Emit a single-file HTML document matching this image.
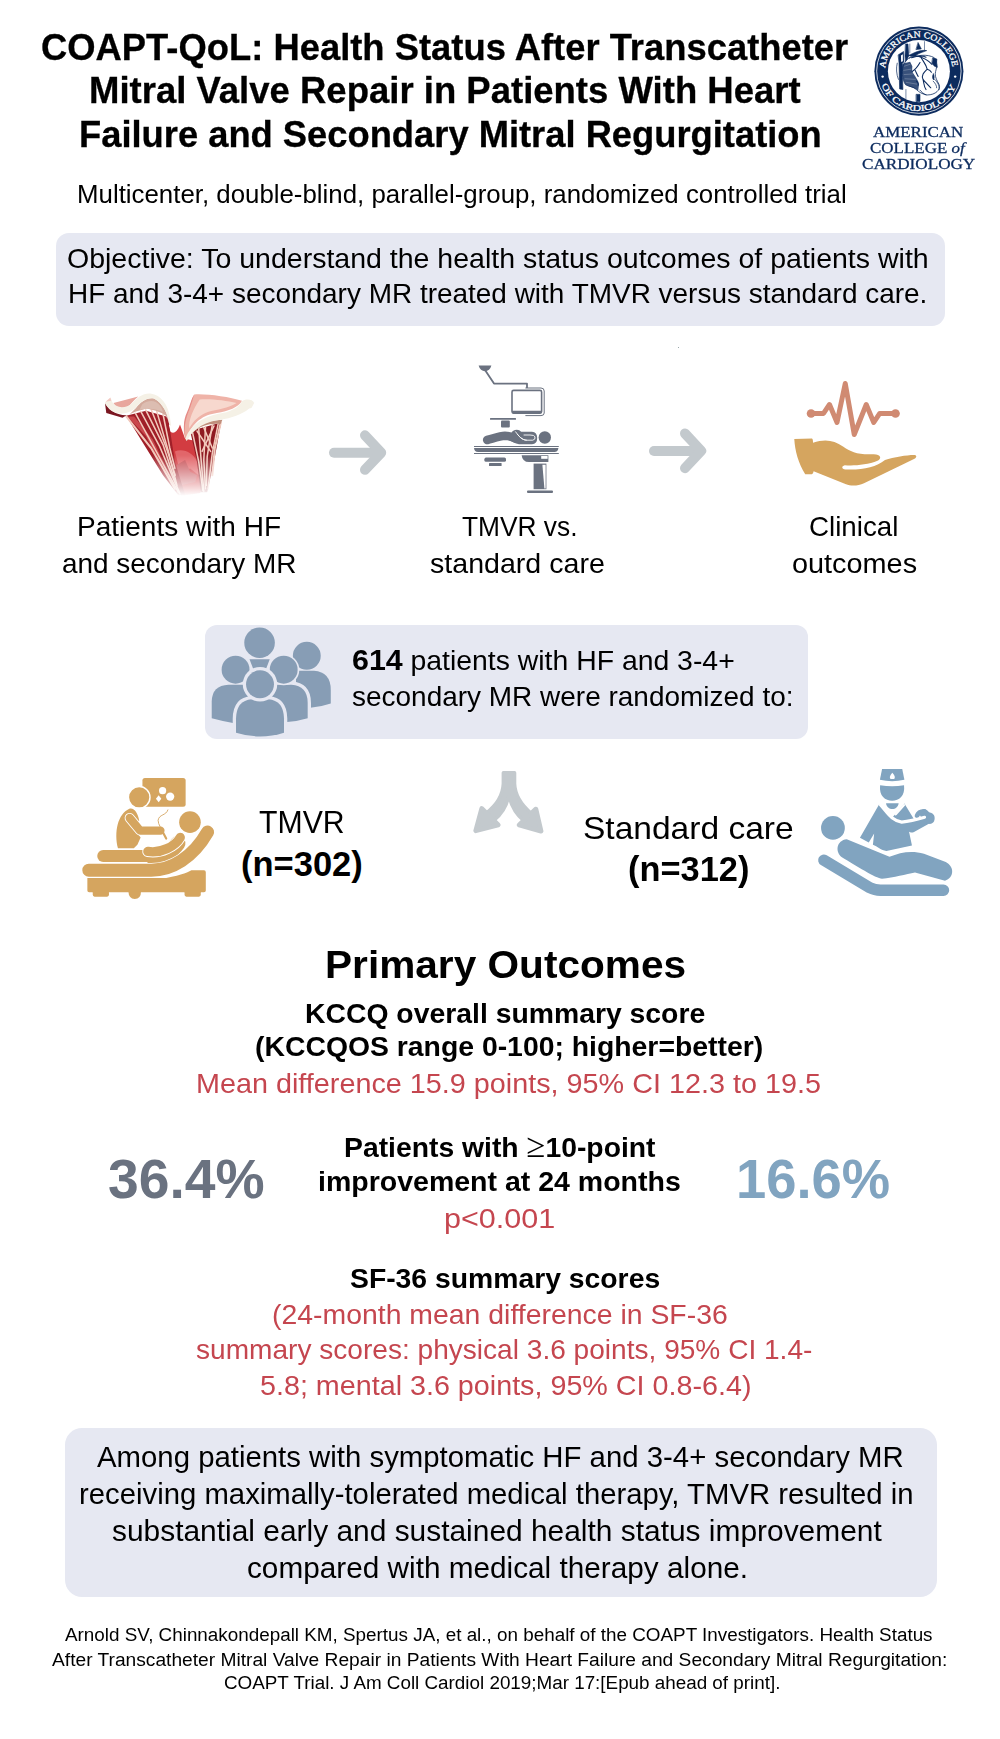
<!DOCTYPE html>
<html lang="en"><head><meta charset="utf-8"><title>COAPT-QoL: Health Status After Transcatheter Mitral Valve Repair</title>
<style>
html,body{margin:0;padding:0;background:#fff}
#page{position:relative;width:1000px;height:1739px;overflow:hidden;background:#fff;font-family:"Liberation Sans",sans-serif}
header,section,footer,h1,h2,h3,p{margin:0;padding:0;font-size:inherit;font-weight:inherit}
.abs{position:absolute;display:block}
.box{position:absolute;background:#e6e8f2}
.t{position:absolute;display:block;white-space:nowrap;line-height:1;transform-origin:0 0;margin:0}
.t b{font-weight:700;font-size:1.07em;line-height:0}
.ge{font-family:"Liberation Serif",serif;font-weight:400;font-size:1.22em;line-height:0}
.sf{font-family:"Liberation Serif",serif;-webkit-text-stroke:0.3px #0c2b5e}

</style></head><body>
<div id="page">
<header>
<h1>
<span class="t" style="-webkit-text-stroke:0.3px #000;left:40.81px;top:30.22px;font-size:36.6px;font-weight:700;color:#000;transform:scaleX(0.9946)">COAPT-QoL: Health Status After Transcatheter</span>
<span class="t" style="-webkit-text-stroke:0.3px #000;left:88.90px;top:73.32px;font-size:36.6px;font-weight:700;color:#000;transform:scaleX(0.9979)">Mitral Valve Repair in Patients With Heart</span>
<span class="t" style="-webkit-text-stroke:0.3px #000;left:79.21px;top:116.52px;font-size:36.6px;font-weight:700;color:#000;transform:scaleX(0.9930)">Failure and Secondary Mitral Regurgitation</span>
</h1>
<p>
<span class="t" style="left:76.55px;top:181.67px;font-size:25.2px;font-weight:400;color:#000;transform:scaleX(1.0257)">Multicenter, double-blind, parallel-group, randomized controlled trial</span>
</p>
<div class="logo">
<svg class="abs" style="left:865px;top:20px" width="110" height="105" viewBox="0 0 1000 955">
<defs>
<path id="arcTop" d="M183.2 438.2A308 308 0 0 1 796.8 438.2"/>
<path id="arcBot" d="M150.7 591.2A362 362 0 0 0 829.3 591.2"/>
</defs>
<circle cx="490" cy="465" r="405" fill="#0c2b5e"/>
<circle cx="490" cy="465" r="384" fill="none" stroke="#fff" stroke-width="7"/>
<circle cx="490" cy="465" r="282" fill="#fff"/>
<g fill="#fff" font-family="'Liberation Serif',serif" font-size="80" font-weight="400" stroke="#fff" stroke-width="2.5">
<text textLength="900" lengthAdjust="spacingAndGlyphs"><textPath href="#arcTop" startOffset="0">AMERICAN COLLEGE</textPath></text>
<text textLength="868" lengthAdjust="spacingAndGlyphs"><textPath href="#arcBot" startOffset="0">OF CARDIOLOGY</textPath></text>
</g>
<circle cx="160" cy="515" r="11" fill="#fff"/><circle cx="820" cy="515" r="11" fill="#fff"/>
<g transform="translate(227.3,163.6) scale(0.5454)" fill="#0c2b5e" stroke="#0c2b5e" stroke-width="10" stroke-linejoin="round" stroke-linecap="round">
<path d="M265 860V1010M575 60V200M330 100V250" fill="none" stroke-width="9"/>
<path d="M440 940H500V1060H440Z"/>
<path d="M140 280L225 225L232 400L202 425L215 860L160 850L150 420Z"/>
<path d="M182 292L214 272L214 388L186 402Z" fill="#fff" stroke="none"/>
<path d="M262 100L300 100L312 300L262 405L250 300Z"/>
<path d="M470 80L522 182L438 192Z"/>
<path d="M330 330C450 290 620 260 740 330C800 400 780 480 760 560C740 640 780 700 820 780C850 860 760 950 620 950C540 940 480 900 440 860C380 800 330 820 260 780C200 700 190 520 230 440C260 380 300 340 330 330Z" fill="#fff" stroke-width="13"/>
<path d="M310 290C400 250 500 190 612 210C560 235 470 250 430 300C400 310 350 315 310 290Z"/>
<path d="M360 330C440 300 540 290 600 320M480 310C560 330 640 380 700 440" fill="none" stroke-width="18"/>
<path d="M205 430L335 395L372 470L368 560L420 640L470 720L480 800L470 875C400 830 330 820 262 780C205 700 190 540 205 430Z" opacity="0.82" stroke="none"/>
<path d="M240 470L330 440M230 540L350 520M235 610L380 600M250 680L420 690M270 740L450 770" fill="none" stroke="#fff" stroke-width="7" opacity="0.55"/>
<path d="M520 330C560 400 600 440 620 520C560 580 520 620 550 690C590 740 640 790 680 830M620 520C660 530 680 550 690 570M500 410C460 480 420 530 370 560M420 540C440 580 450 610 470 640M550 690C570 760 560 800 600 860M440 720C470 740 480 760 470 790" fill="none" stroke-width="18"/>
<path d="M715 335L782 352L775 420L790 490L740 470L700 420Z"/>
<path d="M722 600C700 640 708 680 728 700C740 660 740 630 722 600Z"/>
<path d="M745 690C800 745 828 800 818 860M720 720C760 760 780 800 778 830" fill="none" stroke-width="12"/>
<path d="M120 420C100 500 105 600 140 690" fill="none" stroke-width="12"/>
<path d="M600 950C560 930 520 900 500 870" fill="none" stroke-width="14"/>
</g>
</svg>
<span class="t sf" style="left:873.40px;top:123.60px;font-size:15.4px;font-weight:400;color:#0c2b5e;transform:scaleX(1.1000)">AMERICAN</span>
<span class="t sf" style="left:869.80px;top:140.10px;font-size:15.4px;font-weight:400;color:#0c2b5e;transform:scaleX(1.1023)">COLLEGE <i>of</i></span>
<span class="t sf" style="left:861.89px;top:156.10px;font-size:15.4px;font-weight:400;color:#0c2b5e;transform:scaleX(1.1130)">CARDIOLOGY</span>
</div>
</header>
<section class="objective">
<div class="box" style="left:56px;top:232.5px;width:888.75px;height:93.0px;border-radius:13px"></div>
<p>
<span class="t" style="left:66.56px;top:245.39px;font-size:27.3px;font-weight:400;color:#000;transform:scaleX(1.0445)">Objective: To understand the health status outcomes of patients with</span>
<span class="t" style="left:67.55px;top:280.39px;font-size:27.3px;font-weight:400;color:#000;transform:scaleX(1.0240)">HF and 3-4+ secondary MR treated with TMVR versus standard care.</span>
</p>
</section>
<section class="flow">
<div class="abs" style="left:677.5px;top:346.5px;width:1.5px;height:1.5px;background:#9aa8ab"></div>
<svg class="abs" style="left:95px;top:380px" width="170" height="125" viewBox="0 0 1000 735">
<defs>
<linearGradient id="fade" x1="0" y1="0" x2="0" y2="1"><stop offset="0" stop-color="#fff"/><stop offset="0.60" stop-color="#fff"/><stop offset="0.93" stop-color="#000"/></linearGradient>
<mask id="fm"><rect x="0" y="0" width="1000" height="735" fill="url(#fade)"/></mask>
</defs>
<g mask="url(#fm)">
<path d="M432 290C450 320 480 320 500 262L530 345L600 360L640 560L620 665L510 680L430 560Z" fill="#d23c41"/>
<path d="M470 420C520 400 580 430 600 480L610 560L560 520L500 540Z" fill="#e2666a"/>
<path d="M480 500L530 470L560 540L600 560L590 600L500 620Z" fill="#c8545a"/>
<path d="M183 210L300 180L420 215L440 285L470 480L530 675L490 678L400 560Z" fill="#a01f28"/>
<path d="M190 215L300 330L420 560L500 676L450 580L340 350L230 215Z" fill="#c9474c"/>
<path d="M560 300L742 250L700 480L660 660L622 660L600 480Z" fill="#8f1a22"/>
<g fill="none" stroke="#f2c9bc" stroke-width="9" stroke-linecap="round">
<path d="M183 212L330 400L470 640" stroke-width="12"/><path d="M238 196L350 400L490 660"/><path d="M270 186L380 390L500 670"/><path d="M298 176L400 380L472 600"/><path d="M330 172L420 400L472 560"/><path d="M362 180L432 420L482 620"/><path d="M400 200L440 400L470 520"/>
<path d="M572 300L610 480L635 650"/><path d="M610 285L625 480L640 655"/><path d="M650 275L640 470L650 640"/><path d="M690 262L660 450L655 620"/><path d="M725 255L690 430L665 640"/><path d="M740 250L705 400L690 560" stroke-width="12"/><path d="M600 300L680 420"/><path d="M700 270L630 420"/><path d="M640 280L690 400"/>
</g>
</g>
<g transform="translate(29.4,29.4) scale(0.5294)">
<path d="M55 200L70 310L250 365L295 335C200 340 100 280 55 200Z" fill="#7a1620"/>
<path d="M150 200L425 128C380 160 350 210 300 250C250 285 185 270 150 200Z" fill="#e8a79d"/>
<path d="M400 255C450 190 520 135 600 150C700 200 760 330 772 445L745 350L690 315L620 285L520 262L400 295L330 325Z" fill="#d3aa9c"/>
<path d="M470 215C520 175 580 170 620 190C660 215 690 250 700 300C640 270 540 250 440 275Z" fill="#dcbdb1"/>
<path d="M740 345L772 440L745 490Z" fill="#a01f28"/>
<path d="M55 195L120 145L135 190C180 260 280 270 360 200C420 140 470 90 560 95C680 110 760 220 780 380L790 455L768 440C760 330 700 200 600 150C520 130 450 190 400 250C330 320 200 340 130 290C90 260 60 220 55 195Z" fill="#f5f1e6"/>
<path d="M62 185L115 140L125 175Z" fill="#f3c9c2"/>
</g>
<g transform="translate(441.2,29.4) scale(0.5294)">
<path d="M228 505C300 430 430 395 582 385L562 432C450 420 330 450 248 535Z" fill="#c08f7c"/>
<path d="M270 105C400 95 650 130 800 175C760 250 650 290 520 310C380 330 250 400 175 612C138 520 150 400 200 300C230 230 240 150 270 105Z" fill="#efb3a8"/>
<path d="M270 105C255 150 235 230 205 300C165 400 150 500 178 600C150 510 140 400 190 300C225 225 235 150 270 105Z" fill="#e58a86"/>
<path d="M330 160C450 150 620 170 740 200C650 260 520 270 420 300C330 330 260 400 215 480C200 400 260 260 330 160Z" fill="#f7d8ce"/>
<path d="M800 180C830 150 920 150 935 200L905 255L880 262C800 330 680 370 560 386C420 400 260 470 185 625L172 592C230 440 380 350 540 320C660 300 760 260 800 180Z" fill="#f5f1e6"/>
</g>
</svg>
<p>
<span class="t" style="left:76.95px;top:513.09px;font-size:27.3px;font-weight:400;color:#000;transform:scaleX(1.0265)">Patients with HF</span>
<span class="t" style="left:62.08px;top:549.59px;font-size:27.3px;font-weight:400;color:#000;transform:scaleX(1.0233)">and secondary MR</span>
</p>
<svg class="abs" style="left:310px;top:410px" width="100" height="80" viewBox="0 0 1000 800"><g fill="none" stroke="#c3c9cd" stroke-width="100" stroke-linecap="round" stroke-linejoin="round"><path d="M240 428H700"/><path d="M550 253L712 427L550 598"/></g></svg>
<svg class="abs" style="left:630px;top:410px" width="100" height="80" viewBox="0 0 1000 800"><g fill="none" stroke="#c3c9cd" stroke-width="100" stroke-linecap="round" stroke-linejoin="round"><path d="M240 410H700"/><path d="M550 235L712 409L550 582"/></g></svg>
<svg class="abs" style="left:420px;top:340px" width="200" height="170" viewBox="0 0 1000 850"><g fill="#6b7280">
<path d="M293 128H357C352 146 340 156 325 156C310 156 298 146 293 128Z"/>
<path d="M325 150L370 218H535V240" fill="none" stroke="#6b7280" stroke-width="9" stroke-linejoin="round"/>
<path d="M527 240H605Q621 240 621 255V365Q621 378 605 378H527" fill="none" stroke="#6b7280" stroke-width="5" stroke-linejoin="round"/>
<rect x="460" y="252" width="148" height="114" rx="8" fill="#fff" stroke="#6b7280" stroke-width="8"/>
<rect x="460" y="354" width="148" height="14" rx="5"/>
<rect x="350" y="390" width="130" height="9" rx="3"/>
<rect x="405" y="402" width="44" height="36" rx="5"/>
<g transform="translate(200,400) scale(0.5)">
<circle cx="848" cy="175" r="62"/>
<path d="M272 200C330 185 400 160 450 158C500 158 520 170 560 185" fill="none" stroke="#6b7280" stroke-width="86" stroke-linecap="round"/>
<path d="M520 118H720Q772 122 772 180Q772 238 720 242H590C550 238 520 215 490 200Z"/>
<path d="M556 118C590 165 620 200 665 202H728Q756 196 750 168Q744 150 700 150H640" fill="none" stroke="#fff" stroke-width="9" stroke-linecap="round" stroke-linejoin="round"/>
<path d="M540 128C565 112 580 112 600 135" fill="none" stroke="#6b7280" stroke-width="40" stroke-linecap="round"/>
<path d="M556 118C590 165 620 200 665 202" fill="none" stroke="#fff" stroke-width="9" stroke-linecap="round"/>
</g>
<rect x="270" y="530" width="424" height="5"/>
<path d="M270 540H692Q690 560 672 560H290Q272 560 270 540Z"/>
<rect x="270" y="565" width="424" height="5"/>
<rect x="322" y="588" width="108" height="21" rx="8"/>
<rect x="345" y="615" width="63" height="15" rx="3"/>
<path d="M508 576H642V610H545Q512 610 508 576Z"/>
<rect x="606" y="580" width="32" height="14" fill="#fff"/>
<rect x="568" y="618" width="64" height="128"/>
<path d="M612 624H628V742H622Z" fill="#fff"/>
<rect x="535" y="752" width="130" height="13" rx="5"/>
</g></svg>
<p>
<span class="t" style="left:461.50px;top:513.09px;font-size:27.3px;font-weight:400;color:#000;transform:scaleX(0.9641)">TMVR vs.</span>
<span class="t" style="left:430.25px;top:549.59px;font-size:27.3px;font-weight:400;color:#000;transform:scaleX(1.0473)">standard care</span>
</p>
<svg class="abs" style="left:780px;top:370px" width="150" height="130" viewBox="0 0 1000 867">
<g fill="none" stroke="#d08a72" stroke-width="33" stroke-linecap="round" stroke-linejoin="round"><path d="M205 290H290L330 230L380 350L435 90L495 430L575 230L625 350L665 290H770"/></g>
<circle cx="207" cy="290" r="29" fill="#d08a72"/><circle cx="770" cy="290" r="29" fill="#d08a72"/>
<path fill="#d5a55f" d="M95 460L213 457Q220 460 220 485C300 458 360 468 420 510C470 545 520 567 620 562C672 560 682 590 650 606C580 636 480 640 432 635C408 640 410 662 436 663C545 668 640 650 700 600C760 580 860 565 898 567C916 572 910 586 890 596L560 755C520 775 470 775 440 762L224 676Q222 693 212 695H168C122 620 100 540 95 460Z"/>
</svg>
<p>
<span class="t" style="left:809.38px;top:513.09px;font-size:27.3px;font-weight:400;color:#000;transform:scaleX(1.0165)">Clinical</span>
<span class="t" style="left:792.04px;top:549.59px;font-size:27.3px;font-weight:400;color:#000;transform:scaleX(1.0569)">outcomes</span>
</p>
</section>
<section class="randomized">
<div class="box" style="left:204.6px;top:624.75px;width:603.25px;height:114.5px;border-radius:12px"></div>
<svg class="abs" style="left:200px;top:615px" width="150" height="130" viewBox="0 0 1000 867">
<defs>
<path id="pb1" d="M500 466H610Q716 472 718 585V688Q650 708 580 714H450V466Z"/>
<path id="pb2" d="M345 562H455Q558 570 560 690V785Q400 835 240 785V690Q242 570 345 562Z"/>
<clipPath id="pc"><rect x="0" y="0" width="1000" height="826"/></clipPath>
</defs>
<g fill="#879db5" clip-path="url(#pc)">
<circle cx="397" cy="185" r="102"/>
<path d="M330 295H465L440 360H355Z"/>
<circle cx="712" cy="272" r="93"/>
<path d="M640 372H760Q872 380 872 500V590Q800 615 725 620H640Z"/>
<circle cx="237" cy="365" r="104" fill="#e6e8f2"/><circle cx="237" cy="365" r="93"/>
<path d="M190 466H400V720H220Q140 705 78 688V578Q80 470 190 466Z"/>
<use href="#pb1" fill="none" stroke="#e6e8f2" stroke-width="44"/><use href="#pb1"/>
<circle cx="558" cy="365" r="104" fill="#e6e8f2"/><circle cx="558" cy="365" r="93"/>
<use href="#pb2" fill="none" stroke="#e6e8f2" stroke-width="44"/><use href="#pb2"/>
<circle cx="400" cy="462" r="115" fill="#e6e8f2"/><circle cx="400" cy="462" r="93"/>
</g></svg>
<p>
<span class="t" style="left:352.46px;top:647.39px;font-size:27.3px;font-weight:400;color:#000;transform:scaleX(1.0396)"><b>614</b> patients with HF and 3-4+</span>
<span class="t" style="left:352.48px;top:683.39px;font-size:27.3px;font-weight:400;color:#000;transform:scaleX(1.0246)">secondary MR were randomized to:</span>
</p>
<svg class="abs" style="left:60px;top:760px" width="180" height="150" viewBox="0 0 1000 833"><g fill="#d5a55f">
<rect x="458" y="100" width="240" height="160" rx="14"/>
<circle cx="570" cy="170" r="20" fill="#fff"/><circle cx="612" cy="203" r="23" fill="#fff"/><path d="M548 195L563 215L548 235L533 215Z" fill="#fff"/>
<circle cx="440" cy="207" r="60" stroke="#fff" stroke-width="8"/>
<path d="M322 490C300 400 320 300 385 270C412 262 432 292 440 335L425 400L448 430L430 470L410 490Z"/>
<path d="M387 322L445 392H558" fill="none" stroke="#fff" stroke-width="56" stroke-linecap="round" stroke-linejoin="round"/>
<path d="M387 322L445 392H558" fill="none" stroke="#d5a55f" stroke-width="46" stroke-linecap="round" stroke-linejoin="round"/>
<path d="M600 275C590 310 550 300 545 335C545 360 565 380 570 395" fill="none" stroke="#d5a55f" stroke-width="5"/>
<path d="M570 398L590 436" fill="none" stroke="#d5a55f" stroke-width="12" stroke-linecap="round"/>
<circle cx="722" cy="345" r="60"/>
<rect x="207" y="500" width="360" height="66" rx="33"/>
<path d="M520 545C570 538 620 510 655 462" fill="none" stroke="#d5a55f" stroke-width="84" stroke-linecap="round"/>
<path d="M160 612H500C620 615 740 540 820 400" fill="none" stroke="#fff" stroke-width="80" stroke-linecap="round"/>
<path d="M160 612H500C620 615 740 540 820 400" fill="none" stroke="#d5a55f" stroke-width="72" stroke-linecap="round"/>
<path d="M488 508C560 520 640 480 668 430" fill="none" stroke="#fff" stroke-width="62" stroke-linecap="round"/>
<path d="M488 508C560 520 640 480 668 430" fill="none" stroke="#d5a55f" stroke-width="52" stroke-linecap="round"/>
<path d="M152 655H590C680 640 720 620 730 613H800Q810 613 810 623V725Q810 735 800 735H162Q152 735 152 725Z"/>
<rect x="182" y="725" width="90" height="34" rx="10"/><rect x="692" y="725" width="90" height="34" rx="10"/>
<path d="M380 730H450Q450 770 415 772Q382 770 380 730Z"/>
</g></svg>
<p>
<span class="t" style="left:258.65px;top:807.10px;font-size:31.9px;font-weight:400;color:#000;transform:scaleX(0.9477)">TMVR</span>
<span class="t" style="left:241.00px;top:846.90px;font-size:34.5px;font-weight:700;color:#000;transform:scaleX(1.0000)">(n=302)</span>
</p>
<svg class="abs" style="left:440px;top:750px" width="140" height="110" viewBox="0 0 1000 786"><g fill="#c3c9cd" stroke="#c3c9cd" stroke-linejoin="round">
<path d="M452 162H533V240C536 330 590 400 655 455L600 508C548 462 506 400 492 322C478 400 436 462 385 503L330 450C395 400 448 330 452 240Z" stroke-width="24"/>
<path d="M298 418L416 535L255 577Z" stroke-width="34"/>
<path d="M685 422L565 535L722 580Z" stroke-width="34"/>
</g></svg>
<p>
<span class="t" style="left:582.80px;top:813.00px;font-size:31.9px;font-weight:400;color:#000;transform:scaleX(1.0513)">Standard care</span>
<span class="t" style="left:628.01px;top:852.00px;font-size:34.5px;font-weight:700;color:#000;transform:scaleX(0.9966)">(n=312)</span>
</p>
<svg class="abs" style="left:800px;top:760px" width="180" height="150" viewBox="0 0 1000 833"><g fill="#81a4c0">
<path d="M456 50H568L580 110Q512 125 444 110Z"/>
<path d="M513 70C528 85 530 98 523 106H503C496 98 498 85 513 70Z" fill="#fff"/>
<path d="M445 140Q512 150 578 140C585 200 550 226 512 226C474 226 438 200 445 140Z"/>
<path d="M478 240H548C545 262 530 272 513 272C496 272 481 262 478 240Z"/>
<path d="M440 245L333 432L382 458L412 408L405 470C430 480 450 500 480 505L622 475L600 370L640 340L580 242L530 300L512 320Z"/>

<path d="M620 375L720 320" fill="none" stroke="#81a4c0" stroke-width="56" stroke-linecap="round"/>
<path d="M722 330L690 298" fill="none" stroke="#81a4c0" stroke-width="50" stroke-linecap="round"/>
<path d="M650 310C655 295 670 285 690 285" fill="none" stroke="#81a4c0" stroke-width="26" stroke-linecap="round"/>
<path d="M447 250C485 290 505 335 565 345C610 340 650 330 692 318" fill="none" stroke="#fff" stroke-width="17" stroke-linecap="round"/>
<path d="M578 250L532 302" fill="none" stroke="#fff" stroke-width="12" stroke-linecap="round"/>
<circle cx="183" cy="377" r="66"/>
<g transform="translate(55.6,333.3) scale(0.8333)">
<path d="M245 128L530 245C600 215 680 200 760 225L905 280C965 310 962 385 900 405L700 350C640 360 560 385 480 392C440 390 300 300 215 250C165 215 175 135 245 128Z" stroke="#fff" stroke-width="22" stroke-linejoin="round"/>
<path d="M245 128L530 245C600 215 680 200 760 225L905 280C965 310 962 385 900 405L700 350C640 360 560 385 480 392C440 390 300 300 215 250C165 215 175 135 245 128Z"/>
<path d="M92 268L400 452Q430 468 470 468H890" fill="none" stroke="#81a4c0" stroke-width="76" stroke-linecap="round" stroke-linejoin="round"/>
</g>
</g></svg>
</section>
<section class="outcomes">
<h2>
<span class="t" style="left:324.82px;top:945.00px;font-size:39.1px;font-weight:700;color:#000;transform:scaleX(1.0390)">Primary Outcomes</span>
</h2>
<h3>
<span class="t" style="left:305.08px;top:1000.00px;font-size:28px;font-weight:700;color:#000;transform:scaleX(1.0125)">KCCQ overall summary score</span>
<span class="t" style="left:255.09px;top:1033.30px;font-size:28px;font-weight:700;color:#000;transform:scaleX(1.0128)">(KCCQOS range 0-100; higher=better)</span>
</h3>
<p>
<span class="t" style="left:195.59px;top:1069.89px;font-size:27.3px;font-weight:400;color:#c5464f;transform:scaleX(1.0541)">Mean difference 15.9 points, 95% CI 12.3 to 19.5</span>
</p>
<p>
<span class="t" style="left:107.50px;top:1152.10px;font-size:55.4px;font-weight:700;color:#6a7280;transform:scaleX(0.9968)">36.4%</span>
</p>
<h3>
<span class="t" style="left:343.58px;top:1133.60px;font-size:28px;font-weight:700;color:#000;transform:scaleX(1.0111)">Patients with <span class="ge">≥</span>10-point</span>
<span class="t" style="left:318.16px;top:1168.00px;font-size:28px;font-weight:700;color:#000;transform:scaleX(1.0181)">improvement at 24 months</span>
</h3>
<p>
<span class="t" style="left:443.66px;top:1204.79px;font-size:27.3px;font-weight:400;color:#c5464f;transform:scaleX(1.1187)">p&lt;0.001</span>
</p>
<p>
<span class="t" style="left:735.66px;top:1151.60px;font-size:55.4px;font-weight:700;color:#81a4c0;transform:scaleX(0.9810)">16.6%</span>
</p>
<h3>
<span class="t" style="left:350.29px;top:1264.90px;font-size:28px;font-weight:700;color:#000;transform:scaleX(1.0115)">SF-36 summary scores</span>
</h3>
<p>
<span class="t" style="left:272.42px;top:1301.49px;font-size:27.3px;font-weight:400;color:#c5464f;transform:scaleX(1.0405)">(24-month mean difference in SF-36</span>
<span class="t" style="left:195.97px;top:1336.19px;font-size:27.3px;font-weight:400;color:#c5464f;transform:scaleX(1.0286)">summary scores: physical 3.6 points, 95% CI 1.4-</span>
<span class="t" style="left:259.85px;top:1371.89px;font-size:27.3px;font-weight:400;color:#c5464f;transform:scaleX(1.0516)">5.8; mental 3.6 points, 95% CI 0.8-6.4)</span>
</p>
</section>
<section class="conclusion">
<div class="box" style="left:65px;top:1428.3px;width:871.5px;height:168.5px;border-radius:17px"></div>
<p>
<span class="t" style="left:97.30px;top:1441.07px;font-size:30.4px;font-weight:400;color:#000;transform:scaleX(0.9658)">Among patients with symptomatic HF and 3-4+ secondary MR</span>
<span class="t" style="left:78.67px;top:1478.17px;font-size:30.4px;font-weight:400;color:#000;transform:scaleX(0.9643)">receiving maximally-tolerated medical therapy, TMVR resulted in</span>
<span class="t" style="left:112.02px;top:1515.07px;font-size:30.4px;font-weight:400;color:#000;transform:scaleX(0.9841)">substantial early and sustained health status improvement</span>
<span class="t" style="left:247.02px;top:1552.17px;font-size:30.4px;font-weight:400;color:#000;transform:scaleX(0.9789)">compared with medical therapy alone.</span>
</p>
</section>
<footer>
<p>
<span class="t" style="left:65.30px;top:1626.29px;font-size:18.8px;font-weight:400;color:#000;transform:scaleX(1.0036)">Arnold SV, Chinnakondepall KM, Spertus JA, et al., on behalf of the COAPT Investigators. Health Status</span>
<span class="t" style="left:51.50px;top:1650.59px;font-size:18.8px;font-weight:400;color:#000;transform:scaleX(1.0215)">After Transcatheter Mitral Valve Repair in Patients With Heart Failure and Secondary Mitral Regurgitation:</span>
<span class="t" style="left:223.90px;top:1673.99px;font-size:18.8px;font-weight:400;color:#000;transform:scaleX(1.0025)">COAPT Trial. J Am Coll Cardiol 2019;Mar 17:[Epub ahead of print].</span>
</p>
</footer>
</div></body></html>
